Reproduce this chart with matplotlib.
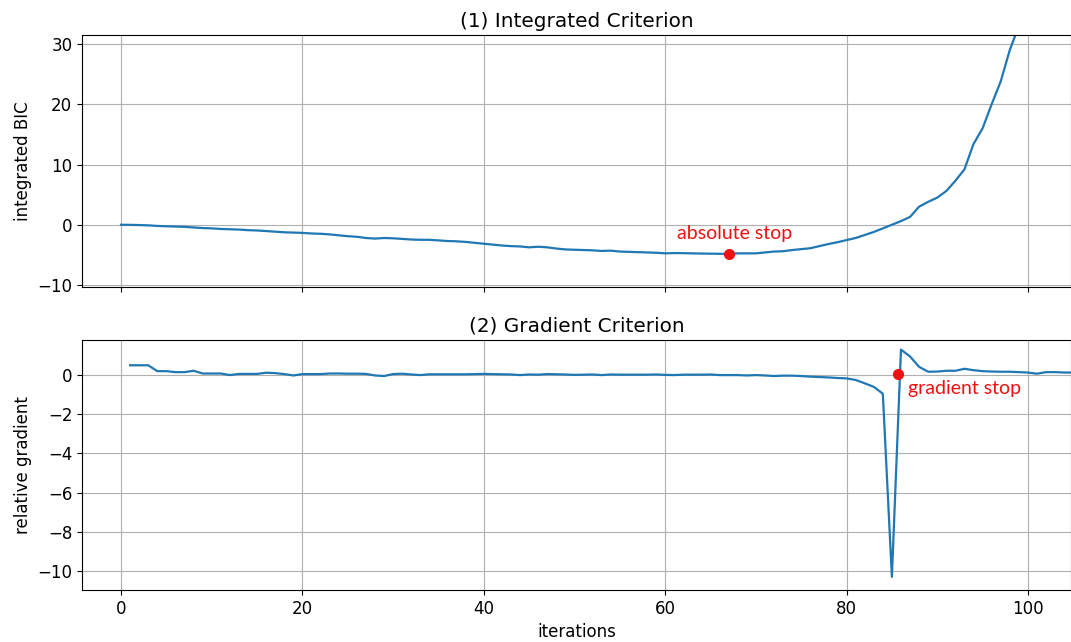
import matplotlib
matplotlib.use("Agg")
import matplotlib.pyplot as plt
import numpy as np

# ---- data ----
iters_bic = list(range(0, 100))
bic = [0.0, -0.02, -0.05, -0.1, -0.2, -0.25, -0.3, -0.35, -0.45, -0.55,
       -0.6, -0.7, -0.75, -0.8, -0.9, -0.95, -1.05, -1.15, -1.25, -1.3,
       -1.35, -1.45, -1.5, -1.6, -1.75, -1.9, -2.0, -2.2, -2.3, -2.2,
       -2.25, -2.35, -2.45, -2.5, -2.5, -2.6, -2.7, -2.75, -2.85, -3.0,
       -3.15, -3.3, -3.45, -3.55, -3.6, -3.75, -3.65, -3.75, -3.95, -4.1,
       -4.15, -4.2, -4.25, -4.35, -4.3, -4.45, -4.5, -4.55, -4.6, -4.65,
       -4.75, -4.7, -4.72, -4.75, -4.78, -4.8, -4.82, -4.85, -4.75, -4.75,
       -4.75, -4.6, -4.45, -4.4, -4.2, -4.05, -3.9, -3.55, -3.2, -2.9,
       -2.55, -2.2, -1.7, -1.2, -0.6, 0.0, 0.6, 1.3, 3.0, 3.8,
       4.5, 5.6, 7.3, 9.2, 13.4, 16.0, 20.0, 23.8, 29.0, 33.0]

iters_grad = list(range(1, 106))
grad = [0.5, 0.5, 0.5, 0.2, 0.2, 0.15, 0.15, 0.22, 0.08, 0.08,
        0.08, 0.0, 0.06, 0.06, 0.06, 0.12, 0.1, 0.05, -0.02, 0.05,
        0.05, 0.05, 0.08, 0.08, 0.07, 0.07, 0.06, -0.02, -0.05, 0.05,
        0.07, 0.03, 0.0, 0.04, 0.04, 0.04, 0.04, 0.04, 0.05, 0.06,
        0.05, 0.04, 0.03, 0.0, 0.03, 0.02, 0.05, 0.04, 0.03, 0.01,
        0.02, 0.03, 0.0, 0.03, 0.02, 0.02, 0.02, 0.02, 0.03, 0.01,
        0.0, 0.02, 0.02, 0.02, 0.03, 0.0, 0.0, 0.0, -0.02, 0.0,
        -0.02, -0.05, -0.03, -0.03, -0.05, -0.08, -0.1, -0.12, -0.15, -0.17,
        -0.25, -0.42, -0.6, -0.95, -10.3, 1.3, 0.95, 0.42, 0.17, 0.18,
        0.22, 0.22, 0.32, 0.25, 0.2, 0.18, 0.17, 0.17, 0.15, 0.13,
        0.07, 0.15, 0.15, 0.13, 0.13]

abs_stop_x = 67
grad_stop_x, grad_stop_y = 85.7, 0.05

# ---- figure ----
plt.rcParams['font.size'] = 12
fig = plt.figure(figsize=(10.71, 6.42), dpi=100)
ax1 = fig.add_axes([0.0766, 0.553, 0.9234, 0.3925])
ax2 = fig.add_axes([0.0766, 0.081, 0.9234, 0.3894], sharex=ax1)

line_color = '#1f77b4'
ax1.plot(iters_bic, bic, color=line_color, lw=1.6)
abs_y = bic[iters_bic.index(abs_stop_x)]
ax1.plot([abs_stop_x], [abs_y], 'o', color='#ee1111', ms=7)
ax1.text(abs_stop_x + 0.7, abs_y + 3.4, 'absolute stop', color='#ee1111',
         ha='center', va='center', fontsize=14, family='Lato')
ax1.set_ylim(-10.33, 31.5)
ax1.set_yticks([-10, 0, 10, 20, 30])
ax1.set_ylabel('integrated BIC')
ax1.set_title('(1) Integrated Criterion', fontsize=14.4)
ax1.grid(True, color='#b0b0b0', lw=0.8)
ax1.tick_params(labelbottom=False)

ax2.plot(iters_grad, grad, color=line_color, lw=1.6)
ax2.plot([grad_stop_x], [grad_stop_y], 'o', color='#ee1111', ms=7)
ax2.text(grad_stop_x + 1.1, grad_stop_y - 0.75, 'gradient stop', color='#ee1111',
         ha='left', va='center', fontsize=14, family='Lato')
ax2.set_ylim(-10.97, 1.79)
ax2.set_yticks([-10, -8, -6, -4, -2, 0])
ax2.set_ylabel('relative gradient')
ax2.set_xlabel('iterations')
ax2.set_title('(2) Gradient Criterion', fontsize=14.4)
ax2.grid(True, color='#b0b0b0', lw=0.8)

ax1.set_xlim(-4.3, 104.75)
ax2.set_xticks([0, 20, 40, 60, 80, 100])

fig.savefig('out.png', dpi=100)
